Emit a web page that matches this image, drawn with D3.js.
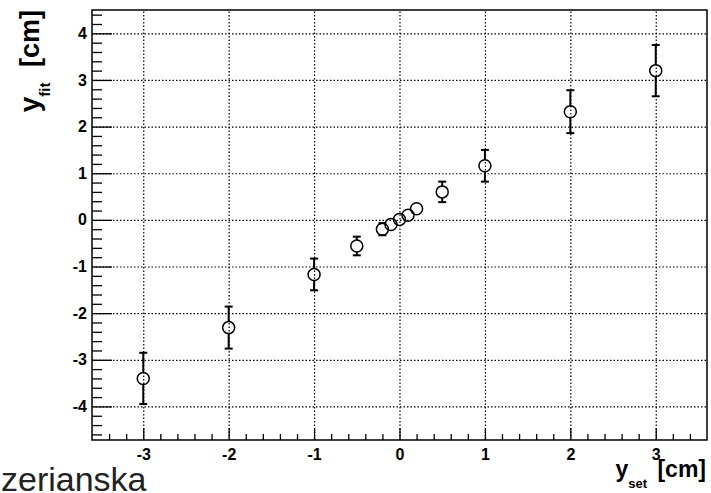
<!DOCTYPE html>
<html>
<head>
<meta charset="utf-8">
<script src="https://cdn.jsdelivr.net/npm/d3@7"></script>
<style>
  body { margin: 0; background: #fff; }
  svg { display: block; }
  .tick text { font-family: "Liberation Sans", Arial, sans-serif; font-weight: bold; font-size: 16px; fill: #000; }
</style>
</head>
<body>
<script>
(function(){

    //data
    var ySet = [-3, -2, -1, -0.5, -0.2, -0.1, 0, 0.1, 0.2, 0.5, 1, 2, 3];
    var yFit = [-3.40, -2.31, -1.17, -0.56, -0.20, -0.10, 0.01, 0.10, 0.24, 0.60, 1.16, 2.32, 3.20];
    var yErr = [0.55, 0.45, 0.34, 0.20, 0.13, 0.06, 0.02, 0.06, 0.12, 0.22, 0.34, 0.46, 0.55];

    var xMajor = [-3, -2, -1, 0, 1, 2, 3];
    var yMajor = [-4, -3, -2, -1, 0, 1, 2, 3, 4];

    var width = 711,
        height = 493;

    var svg = d3.select("body")
        .append("svg")
        .attr("width", width)
        .attr("height", height);

    //frame box
    var left = 92, right = 707, top = 10, bottom = 440;

    var x = d3.scaleLinear().domain([-3.6, 3.6]).range([left, right]);
    var y = d3.scaleLinear().domain([-4.72, 4.5]).range([bottom, top]);

    //minor ticks every 0.2
    var xMinor = d3.range(-34, 35, 2).map(function(d){ return d / 10; })
        .filter(function(d){ return Math.abs(d - Math.round(d)) > 1e-6; });
    var yMinor = d3.range(-46, 45, 2).map(function(d){ return d / 10; })
        .filter(function(d){ return Math.abs(d - Math.round(d)) > 1e-6; });

    var fmt = function(d){ return String(d); };

    //dotted grid at the major ticks, drawn with the axis generators
    svg.append("g")
        .attr("class", "grid")
        .attr("transform", "translate(0," + bottom + ")")
        .call(d3.axisBottom(x).tickValues(xMajor).tickFormat("").tickSize(-(bottom - top)));
    svg.append("g")
        .attr("class", "grid")
        .attr("transform", "translate(" + left + ",0)")
        .call(d3.axisLeft(y).tickValues(yMajor).tickFormat("").tickSize(-(right - left)));
    svg.selectAll(".grid .tick line")
        .attr("stroke", "#000")
        .attr("stroke-width", 1.2)
        .attr("stroke-dasharray", "1.5,2");

    //x axis, ticks pointing inward
    svg.append("g")
        .attr("class", "ax")
        .attr("transform", "translate(0," + bottom + ")")
        .call(d3.axisBottom(x).tickValues(xMajor).tickFormat(fmt).tickSize(-12).tickPadding(9));
    svg.append("g")
        .attr("class", "ax")
        .attr("transform", "translate(0," + bottom + ")")
        .call(d3.axisBottom(x).tickValues(xMinor).tickFormat("").tickSize(-6));

    //y axis
    svg.append("g")
        .attr("class", "ax")
        .attr("transform", "translate(" + left + ",0)")
        .call(d3.axisLeft(y).tickValues(yMajor).tickFormat(fmt).tickSize(-20).tickPadding(5));
    svg.append("g")
        .attr("class", "ax")
        .attr("transform", "translate(" + left + ",0)")
        .call(d3.axisLeft(y).tickValues(yMinor).tickFormat("").tickSize(-10));

    svg.selectAll(".domain").remove();
    svg.selectAll(".ax .tick line").attr("stroke", "#000").attr("stroke-width", 1.3);

    //frame
    svg.append("rect")
        .attr("x", left)
        .attr("y", top)
        .attr("width", right - left)
        .attr("height", bottom - top)
        .attr("fill", "none")
        .attr("stroke", "#000")
        .attr("stroke-width", 1.5);

    //points with error bars
    var pts = ySet.map(function(d, i){ return {x: d, y: yFit[i], e: yErr[i]}; });
    var r = 6, cap = 4;

    var g = svg.append("g").attr("class", "points");

    pts.forEach(function(p){
        var cx = x(p.x), cy = y(p.y),
            yt = y(p.y + p.e), yb = y(p.y - p.e);
        if (cy - yt > r) {
            g.append("line").attr("x1", cx).attr("x2", cx).attr("y1", yt).attr("y2", cy - r);
            g.append("line").attr("x1", cx - cap).attr("x2", cx + cap).attr("y1", yt).attr("y2", yt);
        }
        if (yb - cy > r) {
            g.append("line").attr("x1", cx).attr("x2", cx).attr("y1", cy + r).attr("y2", yb);
            g.append("line").attr("x1", cx - cap).attr("x2", cx + cap).attr("y1", yb).attr("y2", yb);
        }
        g.append("circle")
            .attr("cx", cx)
            .attr("cy", cy)
            .attr("r", r)
            .attr("fill", "none")
            .attr("stroke", "#000")
            .attr("stroke-width", 1.5);
    });
    g.selectAll("line").attr("stroke", "#000").attr("stroke-width", 2);

    //axis titles
    var font = "'Liberation Sans', Arial, sans-serif";

    var xt = svg.append("text")
        .attr("x", 706)
        .attr("y", 477)
        .attr("text-anchor", "end")
        .style("font-family", font)
        .style("font-weight", "bold");
    xt.append("tspan").style("font-size", "23px").text("y");
    xt.append("tspan").style("font-size", "13px").attr("dy", 11).text("set");
    xt.append("tspan").style("font-size", "23px").attr("dy", -11).attr("dx", 4).text(" [cm]");

    var yt = svg.append("text")
        .attr("transform", "translate(39," + top + ") rotate(-90)")
        .attr("text-anchor", "end")
        .style("font-family", font)
        .style("font-weight", "bold");
    yt.append("tspan").style("font-size", "28px").text("y");
    yt.append("tspan").style("font-size", "15px").attr("dy", 11).text("fit");
    yt.append("tspan").style("font-size", "27px").attr("dy", -11).attr("dx", 8).text(" [cm]");

    //slide text cut at the bottom left
    svg.append("text")
        .attr("x", 1)
        .attr("y", 491)
        .style("font-family", font)
        .style("font-size", "34px")
        .style("fill", "#222")
        .text("zerianska");

})();
</script>
</body>
</html>
